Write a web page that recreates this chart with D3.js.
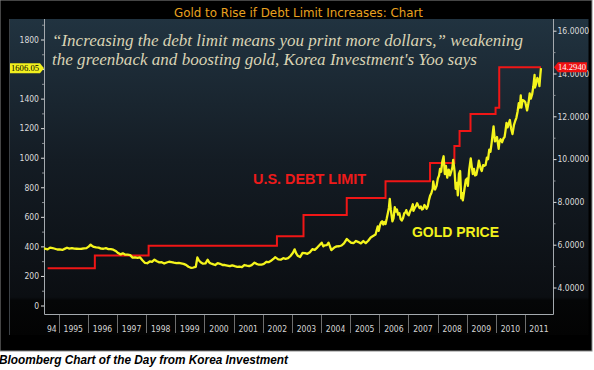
<!DOCTYPE html>
<html>
<head>
<meta charset="utf-8">
<script src="https://cdn.jsdelivr.net/npm/d3@7"></script>
<style>
  body { margin: 0; background: #fff; }
  svg { display: block; }
</style>
</head>
<body>
<div id="chart"></div>
<script>
// gold, USD per ounce (left axis)
const goldPrice = [
  ["1994-07-01",386],["1994-08-15",380],["1994-09-15",392],["1994-10-15",389],["1994-11-15",384],["1994-12-15",379],
  ["1995-01-15",379],["1995-02-15",376],["1995-03-15",383],["1995-04-15",391],["1995-05-15",385],["1995-06-15",388],
  ["1995-07-15",385],["1995-08-15",384],["1995-09-15",383],["1995-10-15",384],["1995-11-15",386],["1995-12-15",388],
  ["1996-01-15",400],["1996-02-05",412],["1996-02-25",402],["1996-03-15",396],["1996-04-15",393],["1996-05-15",392],
  ["1996-06-15",385],["1996-07-15",384],["1996-08-15",388],["1996-09-15",382],["1996-10-15",381],["1996-11-15",378],["1996-12-15",369],
  ["1997-01-15",355],["1997-02-15",346],["1997-03-15",353],["1997-04-15",344],["1997-05-15",344],["1997-06-15",341],
  ["1997-07-15",324],["1997-08-15",325],["1997-09-15",322],["1997-10-15",326],["1997-11-15",306],["1997-12-15",289],
  ["1998-01-15",286],["1998-02-15",298],["1998-03-15",295],["1998-04-15",310],["1998-05-15",299],["1998-06-15",292],
  ["1998-07-15",293],["1998-08-15",284],["1998-09-15",291],["1998-10-15",296],["1998-11-15",294],["1998-12-15",290],
  ["1999-01-15",287],["1999-02-15",288],["1999-03-15",285],["1999-04-15",282],["1999-05-15",275],["1999-06-15",262],
  ["1999-07-15",255],["1999-08-15",257],["1999-09-15",262],["1999-10-05",325],["1999-10-25",305],["1999-11-15",293],["1999-12-15",283],
  ["2000-01-15",285],["2000-02-10",310],["2000-03-01",292],["2000-03-15",286],["2000-04-15",280],["2000-05-15",274],["2000-06-15",286],
  ["2000-07-15",282],["2000-08-15",274],["2000-09-15",274],["2000-10-15",270],["2000-11-15",266],["2000-12-15",272],
  ["2001-01-15",266],["2001-02-15",262],["2001-03-15",263],["2001-04-15",260],["2001-05-15",274],["2001-06-15",270],
  ["2001-07-15",267],["2001-08-15",273],["2001-09-20",290],["2001-10-15",282],["2001-11-15",276],["2001-12-15",276],
  ["2002-01-15",282],["2002-02-15",296],["2002-03-15",293],["2002-04-15",303],["2002-05-15",315],["2002-06-05",327],
  ["2002-07-15",312],["2002-08-15",310],["2002-09-15",320],["2002-10-15",316],["2002-11-15",320],["2002-12-15",335],
  ["2003-01-15",357],["2003-02-05",380],["2003-02-25",352],["2003-03-15",337],["2003-04-15",328],["2003-05-15",356],["2003-06-15",355],
  ["2003-07-15",350],["2003-08-15",360],["2003-09-15",381],["2003-10-15",376],["2003-11-15",392],["2003-12-15",410],
  ["2004-01-10",425],["2004-01-30",400],["2004-02-15",407],["2004-03-15",408],["2004-04-05",425],["2004-05-10",375],["2004-06-15",392],
  ["2004-07-15",400],["2004-08-15",401],["2004-09-15",406],["2004-10-15",421],["2004-11-20",450],["2004-12-15",438],
  ["2005-01-15",424],["2005-02-15",423],["2005-03-15",437],["2005-04-15",429],["2005-05-15",420],["2005-06-15",436],
  ["2005-07-15",422],["2005-08-15",438],["2005-09-15",460],["2005-10-15",470],["2005-11-15",480],["2005-12-12",535],["2005-12-25",505],
  ["2006-01-10",545],["2006-01-25",565],["2006-02-05",570],["2006-02-20",548],["2006-03-05",565],["2006-03-20",552],
  ["2006-04-05",590],["2006-04-20",630],["2006-05-01",660],["2006-05-12",722],["2006-05-25",650],["2006-06-14",570],
  ["2006-06-28",590],["2006-07-14",665],["2006-07-28",635],["2006-08-10",650],["2006-08-25",615],["2006-09-10",625],
  ["2006-09-25",585],["2006-10-10",575],["2006-10-25",590],["2006-11-10",625],["2006-11-25",630],["2006-12-05",645],["2006-12-20",620],
  ["2007-01-05",610],["2007-01-20",635],["2007-02-05",650],["2007-02-25",685],["2007-03-05",640],["2007-03-20",660],
  ["2007-04-05",672],["2007-04-20",692],["2007-05-05",675],["2007-05-20",660],["2007-06-05",670],["2007-06-20",650],
  ["2007-07-05",655],["2007-07-20",680],["2007-08-05",668],["2007-08-17",655],["2007-09-01",672],["2007-09-15",712],
  ["2007-10-01",745],["2007-10-15",760],["2007-11-01",790],["2007-11-08",840],["2007-11-20",800],["2007-12-01",785],["2007-12-20",810],
  ["2008-01-05",860],["2008-01-20",880],["2008-02-01",925],["2008-02-15",905],["2008-03-01",975],["2008-03-17",1010],
  ["2008-04-01",890],["2008-04-15",945],["2008-05-01",865],["2008-05-20",920],["2008-06-05",880],["2008-06-20",905],
  ["2008-07-05",935],["2008-07-15",985],["2008-08-01",910],["2008-08-15",790],["2008-09-01",830],["2008-09-11",745],
  ["2008-09-25",890],["2008-10-10",910],["2008-10-24",725],["2008-11-05",760],["2008-11-13",712],["2008-12-01",780],["2008-12-20",850],
  ["2009-01-05",860],["2009-01-15",810],["2009-02-01",920],["2009-02-20",995],["2009-03-05",940],["2009-03-18",890],
  ["2009-04-01",925],["2009-04-15",880],["2009-05-01",885],["2009-05-20",935],["2009-06-02",980],["2009-06-20",935],
  ["2009-07-08",910],["2009-07-25",950],["2009-08-10",945],["2009-08-25",950],["2009-09-10",1000],["2009-09-25",990],
  ["2009-10-10",1055],["2009-10-25",1040],["2009-11-10",1105],["2009-11-25",1175],["2009-12-03",1212],["2009-12-20",1110],
  ["2010-01-05",1120],["2010-01-15",1140],["2010-02-05",1060],["2010-02-15",1110],["2010-03-01",1125],["2010-03-20",1105],
  ["2010-04-05",1130],["2010-04-20",1140],["2010-05-01",1180],["2010-05-14",1235],["2010-05-28",1205],["2010-06-10",1230],
  ["2010-06-25",1255],["2010-07-10",1200],["2010-07-28",1160],["2010-08-15",1220],["2010-09-01",1250],["2010-09-15",1270],
  ["2010-10-01",1315],["2010-10-15",1370],["2010-10-28",1340],["2010-11-09",1421],["2010-11-17",1340],["2010-12-01",1390],["2010-12-20",1385],
  ["2011-01-05",1375],["2011-01-27",1320],["2011-02-15",1375],["2011-03-01",1435],["2011-03-15",1400],["2011-04-01",1430],
  ["2011-04-15",1480],["2011-05-01",1560],["2011-05-05",1475],["2011-05-20",1500],["2011-06-05",1540],["2011-06-20",1525],
  ["2011-07-01",1485],["2011-07-12",1560],["2011-07-20",1606.05]
];

// U.S. debt limit, trillions of dollars (right axis)
const debtLimit = [
  ["1994-08-15",4.900],["1996-03-29",5.500],["1998-02-01",5.950],["2002-06-28",6.400],
  ["2003-05-27",7.384],["2004-11-19",8.184],["2006-03-20",8.965],["2007-09-29",9.815],
  ["2008-07-30",10.615],["2008-10-03",11.315],["2009-02-17",12.104],["2009-12-28",12.394],
  ["2010-02-12",14.294],["2011-07-20",14.294]
];

const years = d3.range(1995, 2012);
const yearLabels = ["94"].concat(years.map(String));
const leftTicks = d3.range(0, 1801, 200);
const rightTicks = d3.range(4, 17, 2);

const title = "Gold to Rise if Debt Limit Increases: Chart";
const quote = [
  "\u201CIncreasing the debt limit means you print more dollars,\u201D weakening",
  "the greenback and boosting gold, Korea Investment's Yoo says"
];
const caption = "Bloomberg Chart of the Day from Korea Investment";

const W = 594, H = 370;
const plot = { left: 44, right: 553, top: 19, bottom: 314 };
const parse = d3.timeParse("%Y-%m-%d");

const svg = d3.select("#chart").append("svg")
  .attr("width", W).attr("height", H);

// scales
const x = d3.scaleTime()
  .domain([new Date(1995, 0, 1), new Date(2011, 0, 1)])
  .range([58.7, 525]);
const yL = d3.scaleLinear().domain([0, 1800]).range([305.5, 39.5]);
const yR = d3.scaleLinear().domain([4, 16]).range([287.5, 30.7]);

// background
svg.append("rect").attr("width", W).attr("height", H).attr("fill", "#fff");
svg.append("rect").attr("x", 0).attr("y", 0).attr("width", 592).attr("height", 351)
  .attr("fill", "#000").attr("stroke", "#8a8a8a").attr("stroke-width", 1);

const defs = svg.append("defs");
const grad = defs.append("linearGradient").attr("id", "bg")
  .attr("x1", 0).attr("y1", 0).attr("x2", 0).attr("y2", 1);
grad.append("stop").attr("offset", "0%").attr("stop-color", "#213340");
grad.append("stop").attr("offset", "45%").attr("stop-color", "#141c24");
grad.append("stop").attr("offset", "88%").attr("stop-color", "#0b0e12");
grad.append("stop").attr("offset", "89%").attr("stop-color", "#050607");
grad.append("stop").attr("offset", "100%").attr("stop-color", "#030303");

svg.append("rect").attr("x", 9.5).attr("y", 19).attr("width", 579).attr("height", 316)
  .attr("fill", "url(#bg)");
svg.append("line").attr("x1", 9.5).attr("x2", 9.5).attr("y1", 19).attr("y2", 335)
  .attr("stroke", "#3a3f44");

// title
svg.append("text").attr("x", 174).attr("y", 17)
  .attr("textLength", 249).attr("lengthAdjust", "spacingAndGlyphs")
  .style("font-family", "DejaVu Sans Condensed, DejaVu Sans, sans-serif")
  .style("font-size", "13px").attr("fill", "#e9a21f")
  .text(title);

// frame
const frame = svg.append("g").attr("stroke", "#a4a9ae").attr("fill", "none");
frame.append("path")
  .attr("d", `M${plot.left + 0.5},${plot.top}V${plot.bottom + 0.5}H${plot.right + 0.5}V${plot.top}`);

// year separators and labels
svg.append("g").selectAll("line").data(years.slice(0, -1).concat([2011]))
  .join("line")
  .attr("x1", d => Math.round(x(new Date(d, 0, 1))) + 0.5)
  .attr("x2", d => Math.round(x(new Date(d, 0, 1))) + 0.5)
  .attr("y1", plot.bottom + 1).attr("y2", 333)
  .attr("stroke", "#6e6e6e");

const yearPos = yearLabels.map((t, i) => {
  if (i === 0) return (plot.left + x(new Date(1995, 0, 1))) / 2 + 0.5;
  const y0 = 1994 + i;
  const a = x(new Date(y0, 0, 1));
  const b = Math.min(x(new Date(y0 + 1, 0, 1)), plot.right);
  return (a + b) / 2;
});
svg.append("g").selectAll("text").data(yearLabels).join("text")
  .attr("x", (d, i) => yearPos[i]).attr("y", 332)
  .attr("text-anchor", "middle")
  .style("font-family", "DejaVu Sans Condensed, DejaVu Sans, sans-serif")
  .style("font-size", "8.5px").attr("fill", "#d6d6d6")
  .text(d => d);

const lastGold = goldPrice[goldPrice.length - 1][1];
const lastDebt = debtLimit[debtLimit.length - 1][1];

// left axis (the 1600 label sits under the last-price tag)
const axL = svg.append("g").attr("transform", `translate(${plot.left},0)`)
  .call(d3.axisLeft(yL).tickValues(leftTicks).tickSize(3).tickPadding(2)
    .tickFormat(d => Math.abs(d - lastGold) < 60 ? "" : d3.format("d")(d)));
axL.select(".domain").remove();
axL.selectAll("line").attr("stroke", "#e0e0e0");
axL.selectAll("text").attr("fill", "#dcdcdc")
  .style("font-family", "DejaVu Sans Condensed, DejaVu Sans, sans-serif").style("font-size", "8.5px");
const axLm = svg.append("g").attr("transform", `translate(${plot.left},0)`)
  .call(d3.axisLeft(yL).tickValues(d3.range(100, 1901, 200)).tickSize(2).tickFormat(""));
axLm.select(".domain").remove();
axLm.selectAll("line").attr("stroke", "#8a8f94");

// right axis
const axR = svg.append("g").attr("transform", `translate(${plot.right + 0.5},0)`)
  .call(d3.axisRight(yR).tickValues(rightTicks).tickSize(3).tickPadding(1).tickFormat(d3.format(".4f")));
axR.select(".domain").remove();
axR.selectAll("line").attr("stroke", "#e0e0e0");
axR.selectAll("text").attr("fill", "#dcdcdc")
  .style("font-family", "DejaVu Sans Condensed, DejaVu Sans, sans-serif").style("font-size", "8.5px");
const axRm = svg.append("g").attr("transform", `translate(${plot.right + 0.5},0)`)
  .call(d3.axisRight(yR).tickValues(d3.range(5, 16, 2)).tickSize(2).tickFormat(""));
axRm.select(".domain").remove();
axRm.selectAll("line").attr("stroke", "#8a8f94");

// quote
svg.append("g").selectAll("text").data(quote).join("text")
  .attr("x", 52).attr("y", (d, i) => 46 + i * 18.5)
  .attr("textLength", (d, i) => i === 0 ? 471 : 425)
  .attr("lengthAdjust", "spacingAndGlyphs")
  .style("font-family", "Liberation Serif, serif").style("font-style", "italic")
  .style("font-size", "17px").attr("fill", "#d9d3b4")
  .text(d => d);

// series
const debtLine = d3.line()
  .x(d => x(parse(d[0]))).y(d => yR(d[1]))
  .curve(d3.curveStepAfter);
svg.append("path").datum(debtLimit)
  .attr("d", debtLine).attr("fill", "none")
  .attr("stroke", "#f01616").attr("stroke-width", 2);

const goldLine = d3.line()
  .x(d => x(parse(d[0]))).y(d => yL(d[1]));
svg.append("path").datum(goldPrice)
  .attr("d", goldLine).attr("fill", "none")
  .attr("stroke", "#f4f41c").attr("stroke-width", 2.3).attr("stroke-linejoin", "round");

// series labels
svg.append("text").attr("x", 253).attr("y", 184)
  .attr("textLength", 113).attr("lengthAdjust", "spacingAndGlyphs")
  .style("font-family", "Liberation Sans, Arial, sans-serif").style("font-weight", "bold")
  .style("font-size", "14px").attr("fill", "#ee1a1a")
  .text("U.S. DEBT LIMIT");
svg.append("text").attr("x", 412).attr("y", 237)
  .attr("textLength", 87).attr("lengthAdjust", "spacingAndGlyphs")
  .style("font-family", "Liberation Sans, Arial, sans-serif").style("font-weight", "bold")
  .style("font-size", "14px").attr("fill", "#f2f21c")
  .text("GOLD PRICE");

// last value tags
const gy = yL(lastGold);
svg.append("path")
  .attr("d", `M10,${gy - 5}H40L44,${gy}L40,${gy + 5}H10Z`)
  .attr("fill", "#f2f01e");
svg.append("text").attr("x", 11).attr("y", gy + 3)
  .attr("textLength", 28).attr("lengthAdjust", "spacingAndGlyphs")
  .style("font-family", "Liberation Serif, serif").style("font-size", "9px")
  .attr("fill", "#000").text(d3.format(".2f")(lastGold));

const dy = yR(lastDebt);
svg.append("path")
  .attr("d", `M${plot.right + 1},${dy}L${plot.right + 5},${dy - 5}H587V${dy + 5}H${plot.right + 5}Z`)
  .attr("fill", "#ee1111");
svg.append("text").attr("x", 558).attr("y", dy + 3)
  .attr("textLength", 28).attr("lengthAdjust", "spacingAndGlyphs")
  .style("font-family", "Liberation Serif, serif").style("font-size", "9px")
  .attr("fill", "#fff").text(d3.format(".4f")(lastDebt));

// caption
svg.append("text").attr("x", -1).attr("y", 364)
  .attr("textLength", 289).attr("lengthAdjust", "spacingAndGlyphs")
  .style("font-family", "Liberation Sans, Arial, sans-serif")
  .style("font-weight", "bold").style("font-style", "italic")
  .style("font-size", "12px").attr("fill", "#000")
  .text(caption);
</script>
</body>
</html>
